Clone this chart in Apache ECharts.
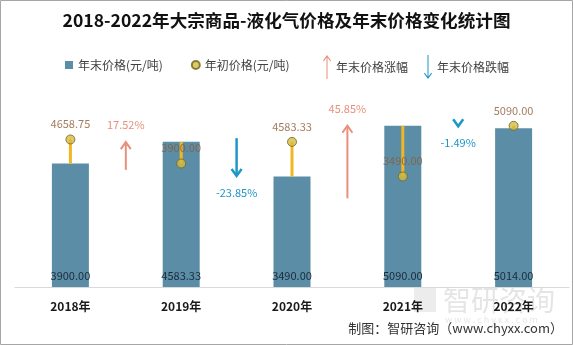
<!DOCTYPE html>
<html><head><meta charset="utf-8">
<script src="https://cdn.jsdelivr.net/npm/echarts@6/dist/echarts.min.js"></script>
<style>html,body{margin:0;padding:0;background:#fff}#c{width:573px;height:345px}</style>
</head><body><div id="c"></div>
<script>
// ---- data ----
const years = ['2018年', '2019年', '2020年', '2021年', '2022年'];
const endPrice = [3900.00, 4583.33, 3490.00, 5090.00, 5014.00];     // 年末价格(元/吨)
const startPrice = [4658.75, 3900.00, 4583.33, 3490.00, 5090.00];   // 年初价格(元/吨)
const changePct = [17.52, -23.85, 45.85, -1.49];                    // 年末价格涨跌幅 (%)
const arrowBase = [74, 94, 56, 103];                                 // arrow tail on the percent axis

const FONT = '"Noto Sans CJK SC", "Noto Sans", sans-serif';
const BAR_COLOR = '#5B8EA6';
const UP_COLOR = '#E9907A';
const DOWN_COLOR = '#1E96C6';

const upIcon = 'path://M4,0 L8,5.5 L7.2,6.2 L4.5,2.6 L4.5,24 L3.5,24 L3.5,2.6 L0.8,6.2 L0,5.5 Z';
const downIcon = 'path://M4,24 L8,18.5 L7.2,17.8 L4.5,21.4 L4.5,0 L3.5,0 L3.5,21.4 L0.8,17.8 L0,18.5 Z';

const arrowData = changePct.map((p, i) => [i, arrowBase[i], arrowBase[i] + p, p]);

function arrowRender(color, lw) {
  return function (params, api) {
    const c0 = api.coord([api.value(0), api.value(1)]);
    const c1 = api.coord([api.value(0), api.value(2)]);
    const half = api.size([1, 0])[0] / 2;
    const x = c0[0] + half;
    const pct = api.value(3);
    const dir = pct >= 0 ? -1 : 1;
    const tipY = c1[1];
    return {
      type: 'group',
      children: [
        { type: 'line', shape: { x1: x, y1: c0[1], x2: x, y2: tipY }, style: { stroke: color, lineWidth: lw } },
        { type: 'polyline', shape: { points: [[x - 5, tipY - dir * 7], [x, tipY], [x + 5, tipY - dir * 7]] },
          style: { stroke: color, lineWidth: lw, fill: null } },
        { type: 'text', style: { text: pct.toFixed(2) + '%', x: x, y: tipY + dir * 17, align: 'center',
          verticalAlign: 'middle', fill: color, fontSize: 11, fontFamily: FONT } }
      ]
    };
  };
}

const chart = echarts.init(document.getElementById('c'));
chart.setOption({
  animation: false,
  textStyle: { fontFamily: FONT },
  title: {
    text: '2018-2022年大宗商品-液化气价格及年末价格变化统计图',
    left: 'center', top: 7,
    textStyle: { fontSize: 17.6, fontWeight: 'bold', color: '#111', fontFamily: FONT }
  },
  legend: [
    {
      data: [{ name: '年末价格(元/吨)', icon: 'rect' }, { name: '年初价格(元/吨)', icon: 'circle' }],
      left: 65, top: 59, padding: 0, itemWidth: 8, itemHeight: 8, itemGap: 28,
      textStyle: { fontSize: 12, color: '#404040' }
    },
    {
      data: [{ name: '年末价格涨幅', icon: upIcon }, { name: '年末价格跌幅', icon: downIcon }],
      left: 323, top: 55, padding: 0, itemWidth: 8, itemHeight: 24, itemGap: 16,
      textStyle: { fontSize: 12, color: '#404040' }
    }
  ],
  grid: { left: 15, right: 4, top: 97, bottom: 58 },
  xAxis: {
    type: 'category', data: years,
    axisLine: { lineStyle: { color: '#D9D9D9' } },
    axisTick: { show: false },
    axisLabel: { fontSize: 12, fontWeight: 'bold', color: '#1a1a1a', margin: 13 }
  },
  yAxis: [
    { type: 'value', min: 0, max: 6000, show: false },
    { type: 'value', min: 0, max: 120, show: false }
  ],
  graphic: [
    { type: 'text', z: -10, style: { text: '智研咨询', x: 443, y: 300, verticalAlign: 'middle',
      fontSize: 28, fill: 'rgba(150,150,150,0.25)', fontFamily: FONT } },
    { type: 'rect', z: -10, shape: { x: 414, y: 288, width: 22, height: 24 },
      style: { fill: 'rgba(150,150,150,0.18)' } },
    { type: 'text', z: -10, style: { text: 'w w w . c h y x x . c o m', x: 445, y: 320, verticalAlign: 'middle',
      fontSize: 9, fill: 'rgba(150,150,150,0.25)', fontFamily: FONT } },
    { type: 'text', style: { text: '制图：智研咨询（www.chyxx.com）', x: 563, y: 328, align: 'right',
      verticalAlign: 'middle', fontSize: 13, fill: '#333', fontFamily: FONT } },
    { type: 'rect', shape: { x: 0.5, y: 0.5, width: 572, height: 344 },
      style: { fill: null, stroke: '#A6A6A6', lineWidth: 1 } }
  ],
  series: [
    {
      name: '年末价格(元/吨)', type: 'bar', data: endPrice, barWidth: 37, z: 2,
      itemStyle: { color: BAR_COLOR },
      label: { show: true, position: 'insideBottom', distance: 6, fontSize: 11, color: '#1B2A3A',
        formatter: p => p.value.toFixed(2) }
    },
    {
      name: 'startLine', type: 'custom', z: 3,
      data: years.map((y, i) => [i, endPrice[i], startPrice[i]]),
      encode: { x: 0, y: [1, 2] },
      renderItem: function (params, api) {
        const p1 = api.coord([api.value(0), api.value(1)]);
        const p2 = api.coord([api.value(0), api.value(2)]);
        return { type: 'line', shape: { x1: p1[0], y1: p1[1], x2: p2[0], y2: p2[1] },
          style: { stroke: '#F2B622', lineWidth: 3 } };
      },
      silent: true
    },
    {
      name: '年初价格(元/吨)', type: 'scatter', data: startPrice, symbolSize: 9, z: 5,
      itemStyle: { color: '#D4BC42', borderColor: '#6E6420', borderWidth: 1 },
      label: { show: true, position: 'top', distance: 5, fontSize: 11, color: '#8B5A35',
        formatter: p => p.value.toFixed(2) }
    },
    {
      name: '年末价格涨幅', type: 'custom', yAxisIndex: 1, z: 4,
      itemStyle: { color: UP_COLOR },
      data: arrowData.filter(d => d[3] >= 0),
      encode: { x: 0, y: [1, 2] },
      renderItem: arrowRender(UP_COLOR, 2)
    },
    {
      name: '年末价格跌幅', type: 'custom', yAxisIndex: 1, z: 4,
      itemStyle: { color: DOWN_COLOR },
      data: arrowData.filter(d => d[3] < 0),
      encode: { x: 0, y: [1, 2] },
      renderItem: arrowRender(DOWN_COLOR, 2.5)
    }
  ]
});
</script></body></html>
